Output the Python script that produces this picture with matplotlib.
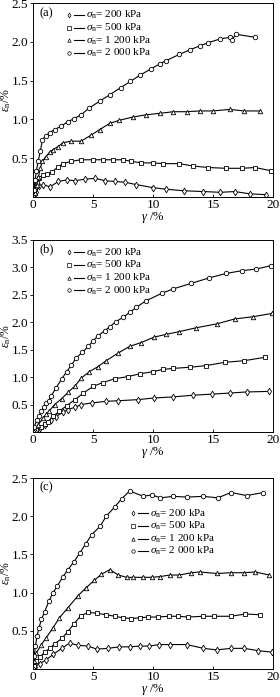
import numpy as np
import matplotlib
matplotlib.use("Agg")
import matplotlib.pyplot as plt

plt.rcParams['font.family'] = ['Liberation Serif', 'DejaVu Serif']
plt.rcParams['mathtext.fontset'] = 'custom'
plt.rcParams['mathtext.rm'] = 'Liberation Serif'
plt.rcParams['mathtext.it'] = 'Liberation Serif:italic'

# ---- panel (a) ----
a_x_200 = [0, 0.1, 0.28, 0.5, 0.83, 1.42, 2.1, 2.8, 3.5, 4.33, 5.17, 6.0, 6.8, 7.67, 8.6, 10.0, 11.1, 12.6, 14.2, 15.6, 16.8, 18.1, 19.4]
a_y_200 = [0, 0.02, 0.07, 0.14, 0.16, 0.13, 0.20, 0.22, 0.21, 0.23, 0.24, 0.21, 0.20, 0.19, 0.16, 0.12, 0.10, 0.08, 0.07, 0.06, 0.07, 0.04, 0.03]
a_x_500 = [0, 0.1, 0.2, 0.35, 0.5, 0.83, 1.2, 1.55, 2.1, 2.5, 3.2, 4.0, 5.0, 5.8, 6.7, 7.5, 8.2, 9.0, 10.0, 10.8, 12.2, 13.3, 14.6, 16.1, 17.4, 18.5, 19.8]
a_y_500 = [0, 0.04, 0.10, 0.18, 0.25, 0.28, 0.30, 0.32, 0.39, 0.43, 0.46, 0.48, 0.48, 0.48, 0.48, 0.48, 0.46, 0.44, 0.44, 0.43, 0.43, 0.40, 0.38, 0.37, 0.37, 0.38, 0.34]
a_x_1200 = [0, 0.14, 0.3, 0.45, 0.6, 0.78, 1.06, 1.39, 1.67, 2.08, 2.5, 3.2, 4.0, 4.86, 5.56, 6.4, 7.2, 8.3, 9.4, 10.6, 11.7, 12.8, 13.9, 15.0, 16.4, 17.6, 18.9]
a_y_1200 = [0, 0.05, 0.16, 0.26, 0.37, 0.46, 0.52, 0.58, 0.61, 0.65, 0.70, 0.72, 0.72, 0.80, 0.87, 0.95, 0.99, 1.03, 1.06, 1.08, 1.10, 1.10, 1.11, 1.11, 1.13, 1.11, 1.11]
a_x_2000 = [0, 0.08, 0.17, 0.28, 0.42, 0.61, 0.78, 1.06, 1.39, 1.8, 2.3, 2.9, 3.4, 4.0, 4.7, 5.6, 6.4, 7.3, 8.1, 8.9, 9.8, 10.6, 11.1, 12.2, 13.1, 13.9, 14.6, 15.6, 16.4, 16.6, 16.9, 18.5]
a_y_2000 = [0, 0.09, 0.22, 0.33, 0.46, 0.59, 0.74, 0.79, 0.83, 0.87, 0.91, 0.97, 1.01, 1.06, 1.15, 1.24, 1.32, 1.41, 1.49, 1.57, 1.65, 1.72, 1.76, 1.84, 1.90, 1.95, 1.99, 2.04, 2.06, 2.03, 2.10, 2.06]

# ---- panel (b) ----
b_x_200 = [0, 0.28, 0.55, 0.97, 1.5, 1.9, 2.5, 2.9, 3.5, 4.0, 4.9, 6.1, 7.1, 8.75, 10.1, 11.7, 13.3, 14.9, 16.4, 17.8, 19.7]
b_y_200 = [0, 0.03, 0.07, 0.13, 0.21, 0.28, 0.36, 0.41, 0.45, 0.50, 0.53, 0.56, 0.57, 0.59, 0.62, 0.64, 0.67, 0.69, 0.71, 0.73, 0.74]
b_x_500 = [0, 0.28, 0.7, 1.0, 1.25, 1.7, 2.2, 2.8, 3.5, 4.2, 5.0, 5.8, 6.8, 7.9, 8.9, 10.0, 10.8, 11.7, 13.1, 14.4, 16.0, 17.6, 19.3]
b_y_500 = [0, 0.04, 0.10, 0.15, 0.19, 0.29, 0.38, 0.48, 0.59, 0.71, 0.83, 0.90, 0.97, 1.01, 1.06, 1.10, 1.14, 1.16, 1.18, 1.21, 1.27, 1.30, 1.36]
b_x_1200 = [0, 0.14, 0.42, 0.83, 1.1, 1.33, 1.8, 2.4, 2.9, 3.5, 4.0, 4.7, 5.4, 6.1, 7.1, 8.05, 9.0, 10.1, 11.1, 12.2, 13.6, 15.3, 16.8, 18.3, 19.9]
b_y_1200 = [0, 0.04, 0.13, 0.25, 0.32, 0.38, 0.50, 0.61, 0.72, 0.84, 0.98, 1.10, 1.19, 1.30, 1.44, 1.56, 1.63, 1.73, 1.78, 1.83, 1.90, 1.97, 2.06, 2.10, 2.16]
b_x_2000 = [0, 0.1, 0.33, 0.5, 0.7, 0.9, 1.1, 1.3, 1.5, 1.9, 2.4, 2.8, 3.2, 3.6, 4.1, 4.6, 5.0, 5.4, 6.0, 6.4, 6.9, 7.5, 8.05, 8.6, 9.4, 10.75, 11.7, 13.2, 14.7, 16.1, 17.4, 18.6, 19.8]
b_y_2000 = [0, 0.10, 0.22, 0.30, 0.38, 0.46, 0.53, 0.57, 0.65, 0.80, 0.97, 1.10, 1.22, 1.35, 1.45, 1.56, 1.66, 1.75, 1.85, 1.92, 2.01, 2.09, 2.18, 2.27, 2.39, 2.53, 2.61, 2.71, 2.81, 2.89, 2.94, 2.97, 3.03]

# ---- panel (c) ----
c_x_200 = [0, 0.14, 0.55, 1.1, 1.67, 2.4, 3.05, 3.75, 4.6, 5.3, 6.25, 7.2, 8.05, 8.9, 9.7, 10.5, 11.4, 12.8, 14.2, 15.3, 16.5, 17.6, 18.75, 19.9]
c_y_200 = [0, 0.03, 0.07, 0.12, 0.19, 0.27, 0.34, 0.31, 0.30, 0.26, 0.27, 0.29, 0.29, 0.30, 0.30, 0.32, 0.32, 0.32, 0.27, 0.25, 0.27, 0.27, 0.24, 0.22]
c_x_500 = [0, 0.1, 0.28, 0.6, 0.97, 1.4, 1.8, 2.4, 2.9, 3.4, 4.0, 4.6, 5.3, 6.1, 6.8, 7.5, 8.2, 8.9, 9.6, 10.4, 11.3, 12.1, 12.9, 14.2, 15.1, 16.5, 17.7, 18.9]
c_y_500 = [0, 0.04, 0.10, 0.16, 0.22, 0.27, 0.33, 0.40, 0.49, 0.59, 0.70, 0.74, 0.73, 0.71, 0.69, 0.67, 0.66, 0.67, 0.68, 0.68, 0.69, 0.69, 0.68, 0.69, 0.69, 0.69, 0.72, 0.71]
c_x_1200 = [0, 0.1, 0.28, 0.7, 1.1, 1.67, 2.2, 2.9, 3.75, 4.4, 5.1, 5.7, 6.4, 7.1, 7.8, 8.3, 9.2, 9.9, 10.6, 11.4, 12.2, 13.2, 13.9, 15.3, 16.5, 17.6, 18.5, 19.7]
c_y_1200 = [0, 0.10, 0.21, 0.32, 0.41, 0.54, 0.67, 0.80, 0.96, 1.06, 1.16, 1.24, 1.30, 1.23, 1.20, 1.20, 1.20, 1.20, 1.21, 1.23, 1.23, 1.26, 1.27, 1.25, 1.26, 1.26, 1.27, 1.23]
c_x_2000 = [0, 0.1, 0.2, 0.33, 0.5, 0.7, 0.97, 1.33, 1.67, 2.0, 2.5, 2.9, 3.4, 3.9, 4.4, 4.9, 5.6, 6.1, 6.8, 7.4, 8.05, 9.2, 9.9, 10.6, 11.7, 12.8, 14.2, 15.4, 16.5, 17.8, 19.2]
c_y_2000 = [0, 0.17, 0.30, 0.43, 0.54, 0.65, 0.75, 0.89, 1.00, 1.08, 1.21, 1.30, 1.40, 1.52, 1.64, 1.76, 1.87, 2.00, 2.12, 2.23, 2.33, 2.26, 2.28, 2.24, 2.26, 2.25, 2.26, 2.24, 2.31, 2.27, 2.31]

series_labels = [r'$\sigma_{\mathrm{n}}$= 200 kPa', r'$\sigma_{\mathrm{n}}$= 500 kPa',
                 r'$\sigma_{\mathrm{n}}$= 1 200 kPa', r'$\sigma_{\mathrm{n}}$= 2 000 kPa']
markers = ['d', 's', '^', 'o']
x_ticks = [0, 5, 10, 15, 20]

panels = [
  ("(a)", [(a_x_200, a_y_200), (a_x_500, a_y_500), (a_x_1200, a_y_1200), (a_x_2000, a_y_2000)],
   2.5, [0.5, 1.0, 1.5, 2.0, 2.5], [0.118, 0.7174, 0.857, 0.278], (0.15, 0.94)),
  ("(b)", [(b_x_200, b_y_200), (b_x_500, b_y_500), (b_x_1200, b_y_1200), (b_x_2000, b_y_2000)],
   3.5, [0.5, 1.0, 1.5, 2.0, 2.5, 3.0, 3.5], [0.118, 0.3802, 0.857, 0.2755], (0.15, 0.935)),
  ("(c)", [(c_x_200, c_y_200), (c_x_500, c_y_500), (c_x_1200, c_y_1200), (c_x_2000, c_y_2000)],
   2.5, [0.5, 1.0, 1.5, 2.0, 2.5], [0.118, 0.0402, 0.857, 0.274], (0.417, 0.815)),
]

fig = plt.figure(figsize=(2.8, 6.97), dpi=100)

for tag, series, ymax, yticks, rect, leg_pos in panels:
  ax = fig.add_axes(rect)
  for (xs, ys), m in zip(series, markers):
    ms = 3.2 if m != 'd' else 3.4
    ax.plot(xs, ys, color='black', lw=0.8, marker=m, ms=ms,
            mfc='white', mec='black', mew=0.6)
  ax.set_xlim(0, 20)
  ax.set_ylim(0, ymax)
  ax.set_xticks(x_ticks)
  ax.set_xticklabels([str(t) for t in x_ticks])
  ax.set_yticks(yticks)
  ax.set_yticklabels([f"{t:.1f}" for t in yticks])
  ax.tick_params(axis='x', direction='in', length=2.5, width=0.6, labelsize=9.5, pad=1.5)
  ax.tick_params(axis='y', direction='out', length=2.5, width=0.6, labelsize=9.5, pad=1)
  for sp in ax.spines.values():
    sp.set_linewidth(0.7)
  ax.set_xlabel(r'$\gamma$ /%', fontsize=9, labelpad=-1)
  ax.set_ylabel(r'$\varepsilon_{\mathrm{n}}$/%', fontsize=8.5)
  ax.yaxis.set_label_coords(-0.083, 0.5)
  ax.text(0.025, 0.95, tag, transform=ax.transAxes, fontsize=9, va='center', ha='left')

  # hand-drawn legend: marker, then a short line, then the label
  lx, ly = leg_pos
  for i, (m, lab) in enumerate(zip(markers, series_labels)):
    yy = ly - i * 0.066
    ax.plot([lx], [yy], marker=m, ms=2.5, mfc='white', mec='black', mew=0.5,
            transform=ax.transAxes, clip_on=False)
    ax.plot([lx + 0.021, lx + 0.063], [yy, yy], color='black', lw=0.8,
            transform=ax.transAxes)
    ax.text(lx + 0.071, yy, lab, transform=ax.transAxes, fontsize=8,
            va='center', ha='left')

fig.savefig("out.png", dpi=100)
